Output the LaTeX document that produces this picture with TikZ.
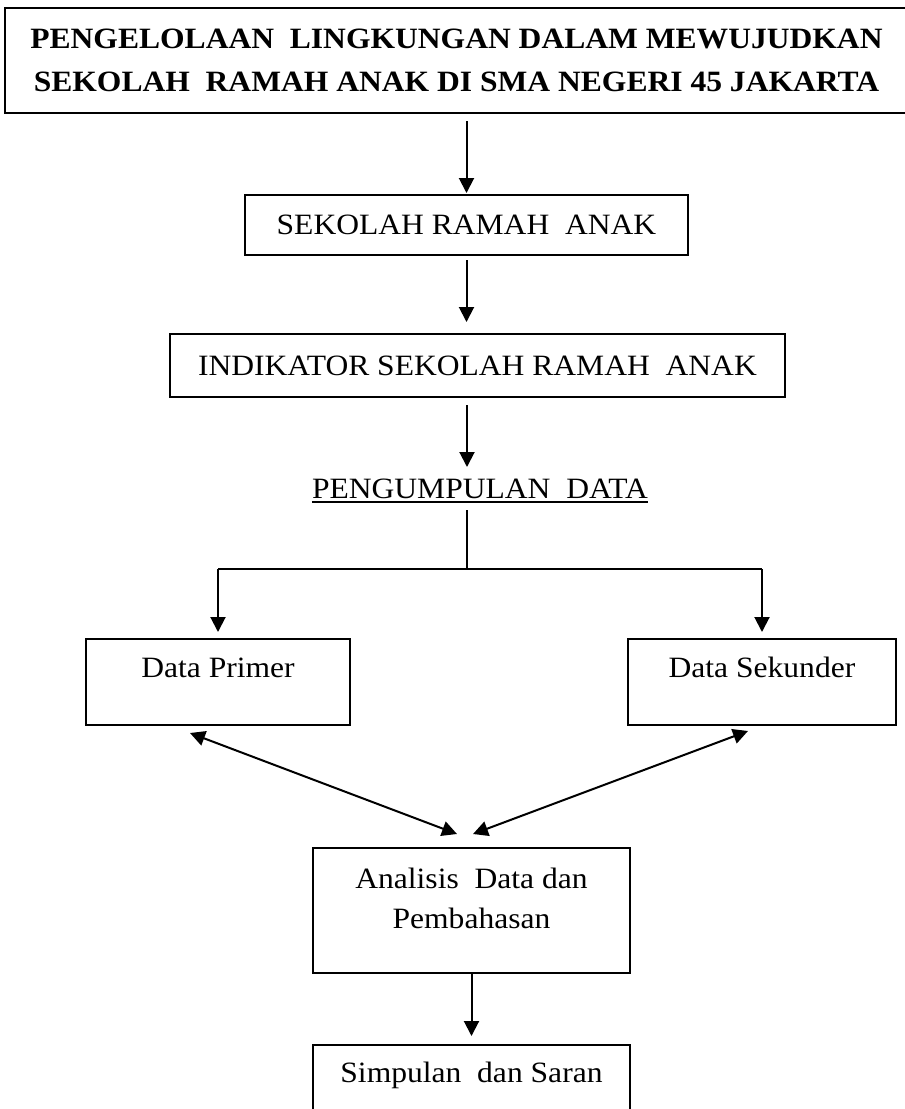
\documentclass[tikz,border=0pt]{standalone}
\usepackage{fontspec}
\setmainfont{Liberation Serif}[FakeStretch=1.07]
\usetikzlibrary{arrows.meta}
\tikzset{
  frame/.style={draw, line width=2pt, inner sep=0pt, font=\fontsize{29.5}{43}\selectfont},
  lbl/.style={inner sep=0pt, font=\fontsize{29.5}{40}\selectfont, anchor=base},
  arr/.style={line width=2pt, -{Triangle[length=15pt,width=15pt]}},
  darr/.style={line width=2pt, {Triangle[length=15pt,width=15pt]}-{Triangle[length=15pt,width=15pt]}},
  ln/.style={line width=2pt},
}
\begin{document}
\begin{tikzpicture}[x=1pt,y=-1pt]
\useasboundingbox (0,0) rectangle (905,1109);
% title
\node[frame, minimum width=903pt, minimum height=105pt, align=center,
      font=\bfseries\fontsize{29.5}{43}\selectfont] (title) at (456.5,60.5)
  {PENGELOLAAN\ \ LINGKUNGAN DALAM MEWUJUDKAN\\SEKOLAH\ \ RAMAH ANAK DI SMA NEGERI 45 JAKARTA};
% boxes
\node[frame, minimum width=443pt, minimum height=60pt] (sra) at (466.5,225) {SEKOLAH RAMAH\ \ ANAK};
\node[frame, minimum width=615pt, minimum height=63pt] (ind) at (477.5,365.5) {INDIKATOR SEKOLAH RAMAH\ \ ANAK};
\node[lbl] (pd) at (480,498) {PENGUMPULAN\ \ DATA};
\draw[ln] ([yshift=-4pt]pd.base west) -- ([yshift=-4pt]pd.base east);
\coordinate (vtop) at (467,510);
\coordinate (split) at (467,569);
\coordinate (sl) at (218,569);
\coordinate (sr) at (762,569);
\coordinate (a3top) at (467,405);
\coordinate (a3end) at (467,467);
\node[frame, minimum width=264pt, minimum height=86pt] (dp) at (218,682) {};
\node[lbl] (dpt) at (218,677) {Data Primer};
\node[frame, minimum width=268pt, minimum height=86pt] (ds) at (762,682) {};
\node[lbl] (dst) at (762,677) {Data Sekunder};
\node[frame, minimum width=317pt, minimum height=125pt] (an) at (471.5,910.5) {};
\node[lbl] (ant1) at (471.5,888) {Analisis\ \ Data dan};
\node[lbl] (ant2) at (471.5,928) {Pembahasan};
\node[frame, minimum width=317pt, minimum height=75pt] (sim) at (471.5,1082.5) {};
\node[lbl] (simt) at (471.5,1082) {Simpulan\ \ dan Saran};
\coordinate (dpa) at (190,733);
\coordinate (dsa) at (748,731);
\coordinate (anl) at (457,834);
\coordinate (anr) at (473,834);
% connectors
\draw[arr, shorten <=7pt, shorten >=1pt] (title.south -| sra.north) -- (sra.north);
\draw[arr, shorten <=4pt, shorten >=11pt] (sra.south) -- (sra.south |- ind.north);
\draw[arr] (a3top) -- (a3end);
\draw[ln] (vtop) -- (split);
\draw[ln] (sl) -- (sr);
\draw[arr, shorten >=6pt] (sl) -- (dp.north);
\draw[arr, shorten >=6pt] (sr) -- (ds.north);
\draw[darr] (dpa) -- (anl);
\draw[darr] (dsa) -- (anr);
\draw[arr, shorten >=8pt] (an.south) -- (sim.north);
\end{tikzpicture}
\end{document}
